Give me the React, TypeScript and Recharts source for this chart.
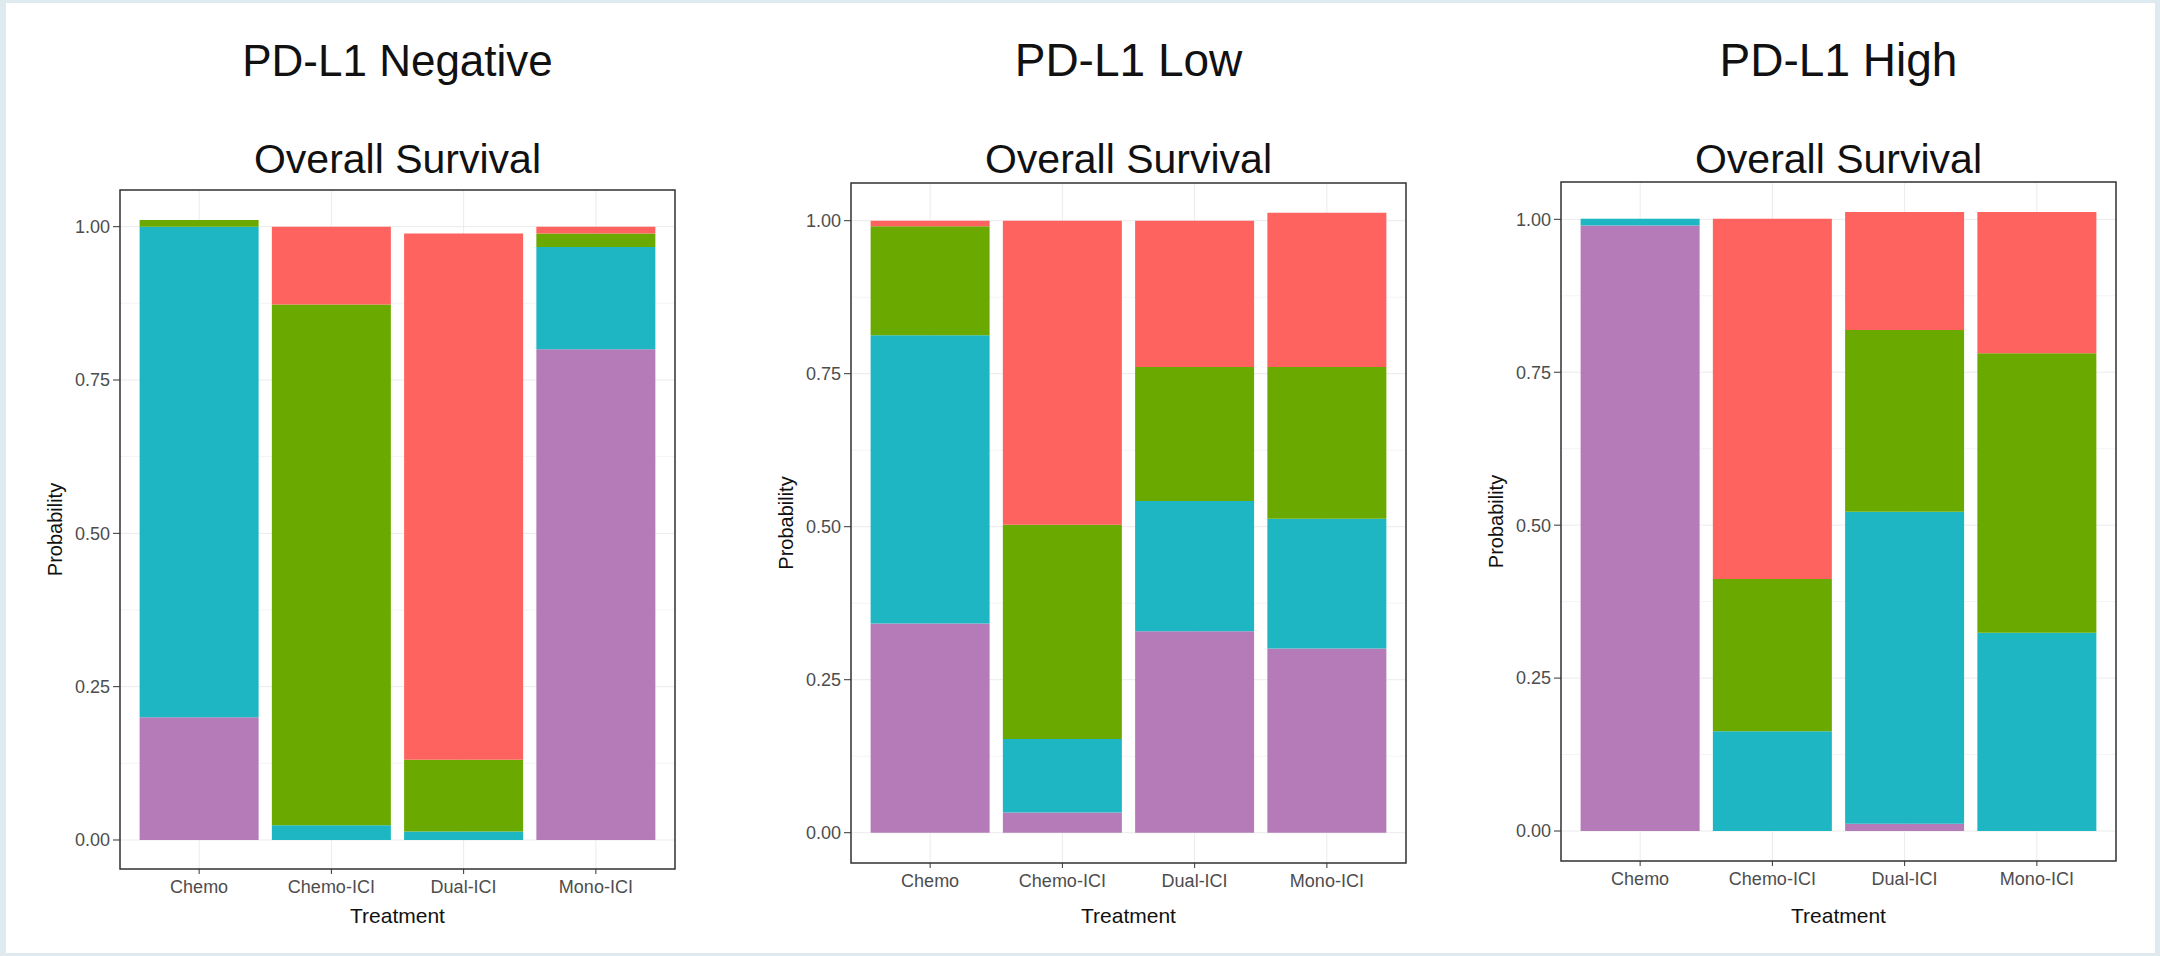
import { BarChart, Bar, XAxis, YAxis, CartesianGrid } from 'recharts'

const treatments = ['Chemo', 'Chemo-ICI', 'Dual-ICI', 'Mono-ICI']
const yTicks = [0, 0.25, 0.5, 0.75, 1]
const minorTicks = [0.125, 0.375, 0.625, 0.875]

// PD-L1 Negative (stack from bottom: purple, cyan, green, red)
const negPurple = [0.2, 0, 0, 0.8]
const negCyan = [0.8, 0.024, 0.014, 0.167]
const negGreen = [0.011, 0.849, 0.117, 0.022]
const negRed = [0, 0.127, 0.858, 0.011]

// PD-L1 Low
const lowPurple = [0.342, 0.033, 0.329, 0.301]
const lowCyan = [0.471, 0.12, 0.213, 0.212]
const lowGreen = [0.178, 0.35, 0.219, 0.248]
const lowRed = [0.009, 0.497, 0.239, 0.252]

// PD-L1 High
const highPurple = [0.99, 0, 0.012, 0]
const highCyan = [0.011, 0.163, 0.51, 0.324]
const highGreen = [0, 0.249, 0.297, 0.457]
const highRed = [0, 0.589, 0.193, 0.231]

const COLORS = { purple: '#B57BB8', cyan: '#1DB6C2', green: '#6AAA00', red: '#FE635F' }
const FONT = '"Liberation Sans", Arial, Helvetica, sans-serif'

const buildRows = (purple: number[], cyan: number[], green: number[], red: number[]) =>
  treatments.map((treatment, i) => ({
    treatment,
    purple: purple[i],
    cyan: cyan[i],
    green: green[i],
    red: red[i],
  }))

interface PanelProps {
  title: string
  titleSize: number
  rows: ReturnType<typeof buildRows>
  left: number // left edge of the panel div
  plotTop: number
  plotBottom: number
  domain: [number, number]
}

const PANEL_W = 720
const PANEL_H = 956
const PLOT_L = 120
const PLOT_W = 555

function Panel({ title, titleSize, rows, left, plotTop, plotBottom, domain }: PanelProps) {
  const xAxisH = 70
  const cx = PLOT_L + PLOT_W / 2
  const cy = (plotTop + plotBottom) / 2
  return (
    <div style={{ position: 'absolute', left, top: 0, width: PANEL_W, height: PANEL_H }}>
      <BarChart
        width={PANEL_W}
        height={PANEL_H}
        data={rows}
        barCategoryGap="5%"
        margin={{ top: plotTop, left: 40, right: PANEL_W - PLOT_L - PLOT_W, bottom: PANEL_H - plotBottom - xAxisH }}
      >
        <CartesianGrid vertical={false} horizontalValues={minorTicks} stroke="#f4f4f4" />
        <CartesianGrid stroke="#ebebeb" />
        <XAxis
          dataKey="treatment"
          height={xAxisH}
          padding={{ left: 13, right: 13 }}
          tickSize={5}
          tickMargin={6}
          tick={{ fill: '#4d4d4d', fontSize: 18, fontFamily: FONT }}
          tickLine={{ stroke: '#333' }}
          axisLine={false}
        />
        <YAxis
          type="number"
          domain={domain}
          allowDataOverflow
          ticks={yTicks}
          width={80}
          tickSize={7}
          tickMargin={3}
          tickFormatter={(v: number) => v.toFixed(2)}
          tick={{ fill: '#4d4d4d', fontSize: 18, fontFamily: FONT }}
          tickLine={{ stroke: '#333' }}
          axisLine={false}
        />
        <Bar dataKey="purple" stackId="s" fill={COLORS.purple} isAnimationActive={false} />
        <Bar dataKey="cyan" stackId="s" fill={COLORS.cyan} isAnimationActive={false} />
        <Bar dataKey="green" stackId="s" fill={COLORS.green} isAnimationActive={false} />
        <Bar dataKey="red" stackId="s" fill={COLORS.red} isAnimationActive={false} />
      </BarChart>
      <svg
        width={PANEL_W}
        height={PANEL_H}
        style={{ position: 'absolute', left: 0, top: 0, pointerEvents: 'none' }}
      >
        {/* panel border (theme_bw style) */}
        <rect
          x={PLOT_L}
          y={plotTop}
          width={PLOT_W}
          height={plotBottom - plotTop}
          fill="none"
          stroke="#333"
          strokeWidth={1.5}
        />
        <text x={cx} y={76} textAnchor="middle" fontSize={titleSize} fontFamily={FONT} fill="#111">
          {title}
        </text>
        <text x={cx} y={173} textAnchor="middle" fontSize={41} fontFamily={FONT} fill="#111">
          Overall Survival
        </text>
        <text x={cx} y={923} textAnchor="middle" fontSize={21} fontFamily={FONT} fill="#111">
          Treatment
        </text>
        <text
          x={62}
          y={cy}
          textAnchor="middle"
          fontSize={20}
          fontFamily={FONT}
          fill="#111"
          transform={`rotate(-90, 62, ${cy})`}
        >
          Probability
        </text>
      </svg>
    </div>
  )
}

export default function App() {
  return (
    <div
      style={{
        position: 'absolute',
        left: 0,
        top: 0,
        width: 2160,
        height: 956,
        overflow: 'hidden',
        background: '#dfe9f0',
        fontFamily: FONT,
      }}
    >
      <div style={{ position: 'absolute', left: 6, top: 3, right: 5, bottom: 3, background: '#fff' }} />
      <Panel
        title="PD-L1 Negative"
        titleSize={44}
        rows={buildRows(negPurple, negCyan, negGreen, negRed)}
        left={0}
        plotTop={190}
        plotBottom={869}
        domain={[-0.0473, 1.0598]}
      />
      <Panel
        title="PD-L1 Low"
        titleSize={46}
        rows={buildRows(lowPurple, lowCyan, lowGreen, lowRed)}
        left={731}
        plotTop={183}
        plotBottom={863}
        domain={[-0.0495, 1.0616]}
      />
      <Panel
        title="PD-L1 High"
        titleSize={46}
        rows={buildRows(highPurple, highCyan, highGreen, highRed)}
        left={1441}
        plotTop={182}
        plotBottom={861}
        domain={[-0.049, 1.061]}
      />
    </div>
  )
}
